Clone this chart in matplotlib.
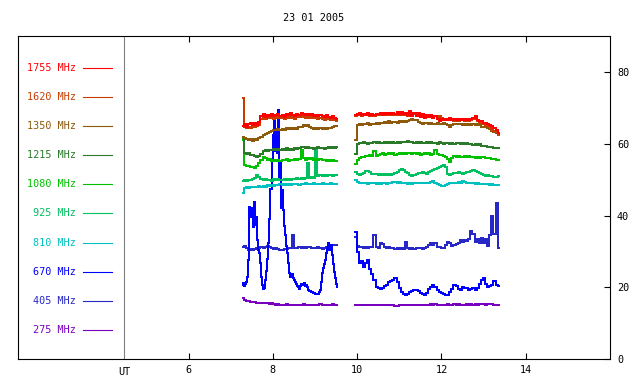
import numpy as np
import matplotlib
matplotlib.use("Agg")
import matplotlib.pyplot as plt

TITLE = "23 01 2005"
FREQS = ["1755 MHz", "1620 MHz", "1350 MHz", "1215 MHz", "1080 MHz",
         "925 MHz", "810 MHz", "670 MHz", "405 MHz", "275 MHz"]
COLORS = ["#ff0000", "#c83c00", "#8c5a0a", "#2a7a2a", "#00c000",
          "#00c060", "#00c0c0", "#0000ff", "#2828c8", "#7800c0"]
LEGEND_Y = [81.2, 73.1, 65.0, 56.8, 48.7, 40.6, 32.5, 24.3, 16.2, 8.1]
XTICKS = [6, 8, 10, 12, 14]
YTICKS = [0, 20, 40, 60, 80]
UT_X = 4.47
SEG1 = (7.28, 9.53)
SEG2 = (9.96, 13.36)

red1 = [65.0, 65.6, 64.8, 65.4, 65.9, 65.2, 65.7, 65.3, 66.0, 67.6,
        68.2, 67.5, 68.0, 67.7, 68.3, 67.6, 67.9, 68.4, 67.8, 68.1,
        67.5, 68.2, 67.9, 68.5, 68.0, 67.7, 68.3, 68.1, 68.6, 68.2,
        67.9, 68.4, 68.0, 68.3, 67.8, 68.1, 67.6, 68.0, 67.7, 67.4,
        67.9, 67.5, 67.3, 67.6, 67.2, 67.0]
red2 = [68.0, 68.2, 68.6, 68.0, 68.4, 68.1, 68.5, 67.9, 68.3, 68.0,
        68.4, 68.2, 68.6, 68.1, 68.5, 68.3, 68.7, 68.2, 68.6, 68.4,
        68.8, 68.3, 68.9, 68.2, 68.7, 68.0, 69.0, 67.8, 68.6, 67.6,
        68.5, 67.4, 68.3, 67.3, 68.1, 67.5, 68.0, 67.2, 67.6, 66.9,
        66.4, 66.8, 66.5, 67.0, 66.6, 67.1, 66.7, 67.0, 66.5, 66.9,
        66.6, 67.0, 66.7, 66.9, 66.5, 66.8, 67.3, 67.8, 66.6, 66.4,
        66.2, 65.9, 65.8, 65.6, 65.3, 64.9, 64.5, 63.8, 63.0]

o1 = [72.7, 64.6, 64.3, 64.8, 64.5, 65.0, 64.7, 64.9, 65.2, 66.8,
      67.4, 67.0, 67.3, 67.1, 67.5, 67.0, 67.2, 67.6, 67.1, 67.4,
      66.9, 67.5, 67.2, 67.7, 67.3, 67.0, 67.6, 67.4, 67.8, 67.5,
      67.2, 67.7, 67.3, 67.5, 67.1, 67.4, 66.9, 67.3, 67.0, 66.7,
      67.1, 66.8, 66.6, 66.8, 66.5, 66.3]
o2 = [67.8, 68.0, 68.3, 67.8, 68.1, 67.9, 68.2, 67.7, 68.0, 67.8,
      68.1, 67.9, 68.3, 67.9, 68.2, 68.0, 68.4, 67.9, 68.3, 68.1,
      68.4, 68.0, 68.5, 67.9, 68.3, 67.8, 68.4, 67.7, 68.2, 67.8,
      68.1, 67.7, 68.0, 67.6, 67.9, 67.5, 67.8, 67.4, 67.7, 67.5,
      67.6, 67.2, 66.9, 66.6, 66.8, 66.5, 66.7, 66.4, 66.6, 66.3,
      66.5, 66.7, 66.4, 66.6, 66.3, 66.5, 66.8, 66.9, 66.3, 66.0,
      65.8, 65.5, 65.3, 65.0, 64.6, 64.2, 63.6, 63.0, 62.4]

b1 = [62.0, 61.6, 61.3, 61.0, 61.4, 60.9, 61.2, 61.0, 61.5, 61.8,
      62.3, 62.7, 63.0, 63.4, 63.5, 63.9, 63.7, 64.1, 63.8, 64.2,
      63.9, 64.3, 64.0, 64.4, 64.1, 64.5, 64.2, 64.6, 64.8, 65.1,
      64.9, 65.2, 64.6, 64.4, 64.1, 64.5, 64.2, 64.4, 64.0, 64.3,
      64.1, 64.5, 64.3, 64.7, 64.9, 65.0]
b2 = [61.0, 65.3, 65.6, 65.2, 65.5, 65.4, 65.7, 65.3, 65.6, 65.4,
      65.7, 65.5, 65.9, 65.8, 66.1, 65.9, 66.2, 65.8, 66.0, 66.1,
      65.9, 66.2, 66.0, 66.3, 66.1, 66.4, 66.6, 66.8, 66.7, 66.5,
      66.1, 65.8, 65.6, 65.9, 65.7, 65.5, 65.8, 65.6, 65.4, 65.7,
      65.6, 65.4, 65.7, 65.5, 65.2, 64.6, 65.3, 65.5, 65.4, 65.6,
      65.4, 65.3, 65.5, 65.2, 65.4, 65.3, 65.5, 65.2, 65.4, 65.1,
      64.7, 64.6, 64.8, 64.4, 64.0, 63.6, 63.3, 63.1, 62.9]

g1 = [61.5, 57.4, 57.1, 57.3, 56.9, 57.0, 56.6, 56.3, 56.5, 57.2,
      58.0, 58.3, 58.1, 58.4, 58.2, 58.5, 58.3, 58.6, 58.2, 58.5,
      58.3, 58.7, 58.4, 58.6, 58.3, 58.8, 58.5, 58.9, 59.0, 59.2,
      58.9, 59.1, 58.7, 58.9, 58.6, 58.8, 59.0, 58.7, 58.9, 58.6,
      58.8, 59.0, 58.7, 59.1, 58.9, 59.2]
g2 = [57.2, 60.0, 60.3, 60.1, 60.4, 60.2, 60.0, 60.3, 60.1, 60.4,
      60.2, 60.5, 60.3, 60.1, 60.4, 60.2, 60.5, 60.3, 60.4, 60.2,
      60.5, 60.3, 60.6, 60.4, 60.5, 60.9, 60.6, 60.4, 60.3, 60.5,
      60.2, 60.4, 60.1, 60.3, 60.5, 60.2, 60.4, 60.1, 60.3, 60.0,
      60.4, 60.2, 59.8, 60.1, 60.3, 60.0, 60.2, 59.9, 60.1, 60.3,
      60.0, 60.2, 59.9, 60.1, 59.8, 60.0, 59.7, 59.9, 59.6, 59.8,
      59.5, 59.3, 59.5, 59.2, 59.0, 59.2, 58.9, 58.7, 58.9]

gr1 = [61.0, 54.0, 53.7, 53.9, 53.5, 53.6, 53.3, 53.8, 54.6, 55.5,
       56.4, 56.0, 55.4, 55.7, 55.2, 55.6, 55.3, 55.5, 55.1, 55.6,
       55.4, 55.7, 55.3, 55.6, 55.4, 55.8, 55.5, 55.7, 58.4, 55.9,
       55.6, 56.0, 55.7, 55.9, 55.6, 55.8, 55.5, 55.7, 55.4, 55.6,
       55.3, 55.5, 55.2, 55.4, 55.1, 55.3]
gr2 = [54.5, 55.4, 55.9, 56.2, 56.4, 56.6, 56.5, 56.8, 56.6, 58.0,
       56.7, 56.9, 57.1, 57.3, 57.0, 57.2, 57.4, 57.1, 57.3, 57.0,
       57.2, 57.5, 57.2, 57.4, 57.1, 57.3, 57.5, 57.2, 57.4, 57.1,
       57.3, 57.0, 57.2, 57.4, 57.1, 57.3, 57.0, 57.2, 58.3, 57.1,
       56.8, 56.9, 56.5, 56.2, 55.8, 55.0, 56.0, 56.6, 56.3, 56.5,
       56.2, 56.4, 56.6, 56.3, 56.5, 56.2, 56.4, 56.1, 56.3, 56.0,
       56.2, 56.4, 56.1, 55.9, 56.0, 55.8, 55.7, 55.5, 55.6]

f1 = [49.6, 49.9, 49.7, 50.0, 49.8, 50.1, 50.6, 51.2, 50.8, 50.2,
      49.9, 50.1, 49.8, 50.0, 49.7, 50.1, 49.9, 50.2, 49.8, 50.0,
      50.1, 49.9, 50.2, 50.0, 50.3, 50.1, 50.4, 50.2, 50.5, 50.3,
      50.6, 54.6, 50.5, 50.7, 50.6, 58.3, 51.0, 51.2, 50.9, 51.3,
      51.1, 51.4, 51.2, 51.0, 51.3, 51.2]
f2 = [52.2, 51.6, 51.4, 51.6, 51.9, 52.3, 52.5, 52.1, 51.7, 51.5,
      51.6, 51.4, 51.5, 51.3, 51.6, 51.4, 51.5, 51.3, 51.6, 51.8,
      52.2, 52.7, 53.1, 52.6, 52.2, 51.8, 51.4, 51.0, 51.3, 51.7,
      51.9, 51.8, 52.0, 51.9, 51.7, 52.0, 52.3, 52.6, 52.9, 53.3,
      53.6, 53.9, 54.1, 53.5, 51.6, 51.4, 51.7, 51.9, 51.8, 52.0,
      51.9, 51.7, 51.9, 52.0, 52.2, 52.5, 52.7, 52.5, 52.2, 51.8,
      51.5, 51.2, 51.0, 51.2, 50.9, 51.1, 50.8, 50.7, 50.9]

c1 = [46.4, 47.7, 47.9, 47.8, 48.0, 47.9, 48.1, 47.9, 48.2, 48.0,
      48.3, 48.1, 48.4, 48.2, 48.5, 48.3, 48.6, 48.4, 48.7, 48.5,
      48.7, 48.6, 48.8, 48.6, 48.9, 48.7, 48.8, 48.6, 48.9, 48.7,
      49.0, 48.8, 48.9, 48.7, 49.0, 48.8, 48.9, 48.7, 49.0, 48.8,
      48.9, 48.7, 49.0, 48.8, 48.9, 48.8]
c2 = [50.0, 49.3, 49.1, 49.2, 49.0, 49.2, 48.9, 49.1, 49.0, 49.2,
      48.9, 49.1, 48.9, 49.0, 49.2, 48.9, 49.1, 49.0, 49.3, 49.4,
      49.2, 49.4, 49.1, 49.0, 49.2, 48.9, 49.1, 48.9, 49.0, 49.2,
      49.0, 49.1, 49.0, 49.2, 49.0, 49.1, 49.3, 49.5, 49.2, 48.9,
      48.5, 48.2, 48.3, 48.6, 48.9, 49.1, 49.0, 49.2, 49.0, 49.3,
      49.2, 49.5, 49.3, 49.1, 49.2, 49.0, 49.1, 48.9, 49.0, 48.8,
      48.9, 48.7, 48.9, 48.8, 48.6, 48.8, 48.5, 48.4, 48.5]

bl1 = [20.6, 21.2, 20.3, 21.0, 21.6, 23.0, 27.6, 42.4, 39.7, 42.0,
       36.9, 43.8, 37.5, 39.7, 33.2, 30.4, 29.5, 26.8, 23.0, 20.7,
       19.7, 19.9, 22.0, 24.5, 28.0, 32.3, 39.0, 47.5, 55.4, 62.5,
       66.5, 58.0, 63.5, 57.5, 69.3, 50.0, 55.0, 42.0, 47.0, 41.5,
       37.0, 34.5, 31.5, 29.5, 26.8, 24.0, 23.0, 23.8, 22.6, 22.0,
       21.5, 21.1, 20.4, 20.0, 19.7, 20.5, 20.9, 21.1, 20.6, 21.2,
       20.4, 20.8, 20.0, 19.4, 19.0, 18.8, 18.6, 18.5, 18.4, 18.3,
       18.2, 18.2, 18.3, 18.6, 19.2, 21.5, 24.0, 25.5, 26.5, 27.6,
       29.5, 31.0, 32.3, 30.4, 31.8, 29.0, 26.5, 24.4, 22.5, 21.1,
       20.2]
bl2 = [35.5, 30.0, 26.8, 27.5, 25.8, 26.8, 27.6, 25.2, 23.8, 22.2,
       20.2, 19.8, 19.5, 19.9, 20.3, 20.8, 21.5, 21.8, 22.2, 22.5,
       21.5, 19.8, 18.7, 18.2, 17.9, 18.1, 18.6, 19.0, 19.2, 19.3,
       19.0, 18.5, 18.1, 18.0, 18.4, 19.5, 20.2, 20.7, 20.0, 19.4,
       18.8, 18.4, 18.1, 17.9, 17.9, 18.6, 19.5, 20.6, 20.3, 19.6,
       19.3, 20.0, 19.8, 19.9, 19.4, 19.6, 19.8, 19.3, 19.9, 21.1,
       22.0, 22.5, 21.0, 20.2, 20.4, 20.8, 21.7, 20.7, 20.3]

fv1 = [31.3, 31.5, 31.0, 30.5, 30.7, 30.4, 30.8, 31.0, 30.9, 31.2,
       31.0, 31.3, 31.5, 31.2, 31.0, 30.8, 31.0, 30.7, 30.5, 30.3,
       30.6, 30.8, 31.0, 30.9, 34.6, 31.1, 30.9, 31.2, 31.0, 31.3,
       31.1, 31.4, 31.2, 31.0, 31.1, 30.9, 31.2, 31.0, 30.8, 31.1,
       31.3, 31.5, 31.7, 31.9, 31.8, 31.9]
fv2 = [34.0, 31.6, 31.2, 31.4, 31.1, 31.3, 31.0, 31.4, 31.2, 34.6,
       31.2, 31.0, 32.3, 32.0, 31.2, 31.0, 31.2, 30.9, 31.1, 30.8,
       31.0, 30.7, 30.9, 30.8, 32.7, 30.9, 30.8, 31.0, 30.8, 31.0,
       30.9, 31.1, 30.8, 31.0, 31.3, 31.9, 32.3, 31.8, 32.4, 31.3,
       31.2, 30.9, 31.1, 31.8, 32.7, 32.4, 31.5, 31.7, 32.0, 32.4,
       33.1, 32.6, 33.3, 32.8, 33.4, 35.6, 34.8, 32.7, 33.4, 32.5,
       33.8, 32.4, 33.5, 31.5, 34.5, 39.8, 35.0, 43.4, 31.0]

p1 = [17.0, 16.4, 16.2, 16.1, 16.0, 15.9, 16.0, 15.8, 15.7, 15.8,
      15.6, 15.7, 15.6, 15.5, 15.6, 15.3, 15.2, 15.3, 15.2, 15.1,
      15.2, 15.3, 15.2, 15.1, 15.2, 15.0, 15.1, 15.2, 15.1, 15.3,
      15.2, 15.1, 15.2, 15.0, 15.1, 15.2, 15.1, 15.3, 15.2, 15.1,
      15.2, 15.1, 15.2, 15.3, 15.2, 15.1]
p2 = [15.2, 15.1, 15.2, 15.1, 15.2, 15.0, 15.1, 15.2, 15.1, 15.2,
      15.1, 15.0, 15.1, 15.2, 15.1, 15.0, 15.1, 15.2, 15.1, 14.9,
      14.9, 15.0, 15.1, 15.2, 15.1, 15.0, 15.1, 15.2, 15.1, 15.0,
      15.1, 15.2, 15.1, 15.0, 15.1, 15.2, 15.3, 15.2, 15.3, 15.1,
      15.0, 15.1, 15.2, 15.1, 15.5, 15.2, 15.1, 15.3, 15.2, 15.3,
      15.2, 15.1, 15.2, 15.3, 15.2, 15.3, 15.2, 15.3, 15.2, 15.3,
      15.4, 15.3, 15.2, 15.3, 15.4, 15.3, 15.2, 15.1, 15.2]

SERIES = [(red1, red2), (o1, o2), (b1, b2), (g1, g2), (gr1, gr2),
          (f1, f2), (c1, c2), (bl1, bl2), (fv1, fv2), (p1, p2)]

MONO = "DejaVu Sans Mono"
FS = 7.3

fig = plt.figure(figsize=(6.4, 3.84), dpi=100)
ax = fig.add_axes([0.0281, 0.0643, 0.925, 0.842])
ax.set_xlim(1.95, 16.0)
ax.set_ylim(0, 90)

# data (low frequencies first so high frequencies end on top)
for idx in reversed(range(len(FREQS))):
    s1, s2 = SERIES[idx]
    t1 = np.linspace(SEG1[0], SEG1[1], len(s1))
    t2 = np.linspace(SEG2[0], SEG2[1], len(s2))
    for t, v in ((t1, s1), (t2, s2)):
        ax.plot(t, v, color=COLORS[idx], lw=1.4, drawstyle="steps-mid",
                solid_joinstyle="miter", antialiased=False)

# legend column
for name, col, y in zip(FREQS, COLORS, LEGEND_Y):
    ax.text(3.32, y, name, ha="right", va="center", color=col,
            fontsize=FS, family=MONO)
    ax.plot([3.49, 4.17], [y, y], color=col, lw=0.8)

ax.axvline(UT_X, color="#808080", lw=0.8)
ax.text(UT_X, -0.039, "UT", transform=ax.get_xaxis_transform(),
        ha="center", va="center", fontsize=FS, family=MONO)

ax.set_xticks(XTICKS)
ax.set_xticklabels([str(x) for x in XTICKS])
ax.set_yticks(YTICKS)
ax.yaxis.tick_right()
ax.tick_params(axis="x", direction="in", top=True, bottom=True, length=4,
               width=0.8, pad=4, labelsize=FS)
ax.tick_params(axis="y", direction="in", left=False, right=True, length=4,
               width=0.8, pad=5, labelsize=FS, labelright=True, labelleft=False)
for lab in ax.get_xticklabels() + ax.get_yticklabels():
    lab.set_family(MONO)
for sp in ax.spines.values():
    sp.set_linewidth(0.8)
    sp.set_color("black")

fig.text(0.4906, 0.953, TITLE, ha="center", va="center", fontsize=FS,
         family=MONO)

fig.savefig("out.png", dpi=100)
